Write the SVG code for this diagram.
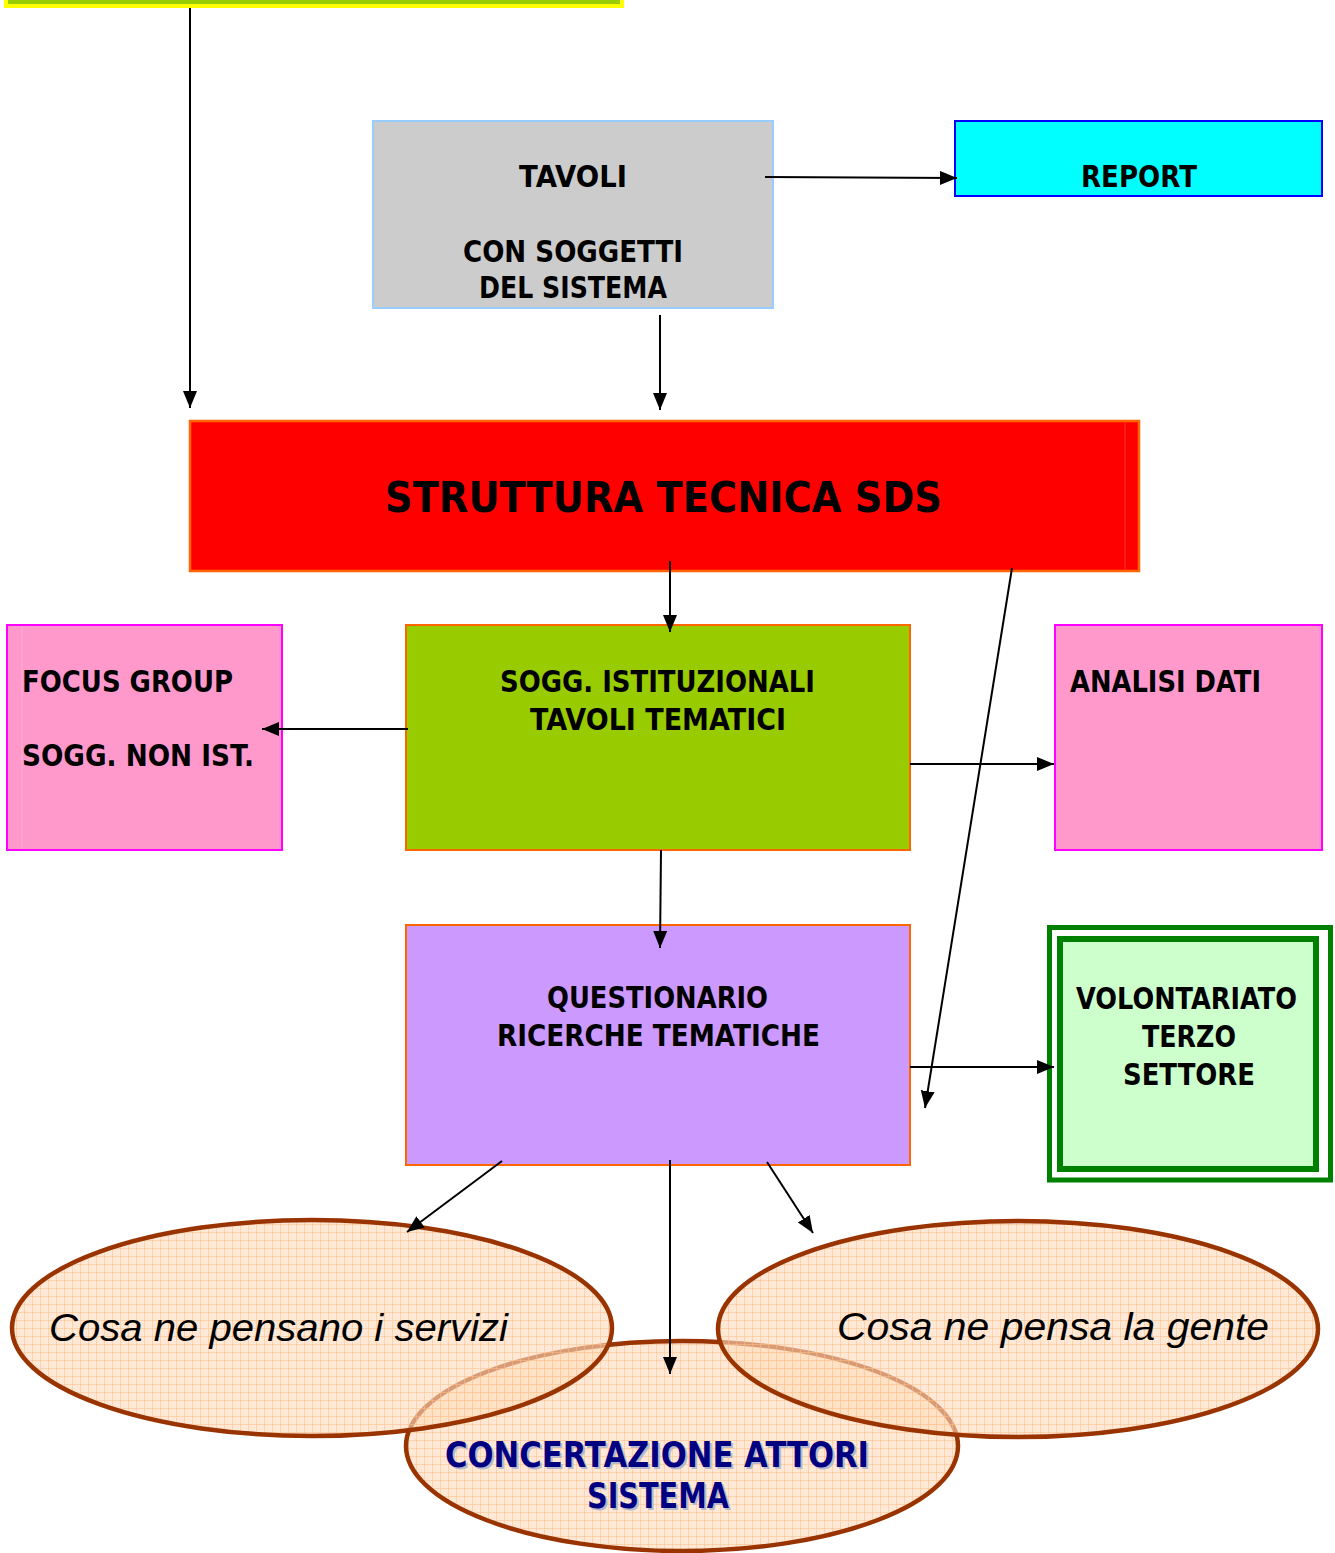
<svg xmlns="http://www.w3.org/2000/svg" width="1335" height="1553" viewBox="0 0 1335 1553">
<style>
.box{font-family:"DejaVu Sans","Liberation Sans",sans-serif;font-weight:bold;font-size:31px;fill:#000}
.big{font-size:42px}
.ital{font-family:"Liberation Sans","DejaVu Sans",sans-serif;font-style:italic;font-size:38px;fill:#000}
.conc{font-family:"DejaVu Sans","Liberation Sans",sans-serif;font-weight:bold;font-size:36px;fill:#000080}
.concs{font-family:"DejaVu Sans","Liberation Sans",sans-serif;font-weight:bold;font-size:36px;fill:#B8B8CC}
.ln{stroke:#000;stroke-width:2;fill:none;marker-end:url(#ah)}
.ell{fill:url(#grid);stroke:#993300;stroke-width:4.5}
</style>
<defs>
<marker id="ah" markerUnits="userSpaceOnUse" markerWidth="18" markerHeight="15" refX="17" refY="7" orient="auto">
<path d="M0,0 L17,7 L0,14 z" fill="#000"/>
</marker>
<pattern id="grid" patternUnits="userSpaceOnUse" width="8" height="8">
<rect width="8" height="8" fill="#FFDCBC" fill-opacity="0.62"/>
<path d="M0,0.5 H8 M0.5,0 V8" stroke="#FDBF88" stroke-opacity="0.55" stroke-width="1"/>
</pattern>
</defs>

<g id="top-box">
<rect x="6" y="-12" width="616" height="18" fill="#99CC00" stroke="#FFFF00" stroke-width="4"/>
</g>

<g id="tavoli">
<rect x="373" y="121" width="400" height="187" fill="#CCCCCC" stroke="#99CCFF" stroke-width="2"/>
<text class="box" x="519" y="187" textLength="108" lengthAdjust="spacingAndGlyphs">TAVOLI</text>
<text class="box" x="463" y="262" textLength="220" lengthAdjust="spacingAndGlyphs">CON SOGGETTI</text>
<text class="box" x="479" y="298" textLength="188" lengthAdjust="spacingAndGlyphs">DEL SISTEMA</text>
</g>

<g id="report">
<rect x="955" y="121" width="367" height="75" fill="#00FFFF" stroke="#0000FF" stroke-width="2"/>
<text class="box" x="1081" y="187" textLength="116" lengthAdjust="spacingAndGlyphs">REPORT</text>
</g>

<g id="struttura">
<rect x="190" y="421" width="949" height="150" fill="#FF0000" stroke="#FF6600" stroke-width="2.5"/>
<line x1="1125" y1="422" x2="1125" y2="570" stroke="#FF3333" stroke-width="1"/>
<text class="box big" x="385" y="512" textLength="557" lengthAdjust="spacingAndGlyphs">STRUTTURA TECNICA SDS</text>
</g>

<g id="focus">
<rect x="7" y="625" width="275" height="225" fill="#FF99CC" stroke="#FF00FF" stroke-width="2"/>
<line x1="22" y1="626" x2="22" y2="849" stroke="#FFB0D8" stroke-width="1"/>
<text class="box" x="22" y="692" textLength="211" lengthAdjust="spacingAndGlyphs">FOCUS GROUP</text>
<text class="box" x="22" y="766" textLength="232" lengthAdjust="spacingAndGlyphs">SOGG. NON IST.</text>
</g>

<g id="istituzionali">
<rect x="406" y="625" width="504" height="225" fill="#99CC00" stroke="#FF6600" stroke-width="2"/>
<text class="box" x="500" y="692" textLength="315" lengthAdjust="spacingAndGlyphs">SOGG. ISTITUZIONALI</text>
<text class="box" x="530" y="730" textLength="256" lengthAdjust="spacingAndGlyphs">TAVOLI TEMATICI</text>
</g>

<g id="analisi">
<rect x="1055" y="625" width="267" height="225" fill="#FF99CC" stroke="#FF00FF" stroke-width="2"/>
<text class="box" x="1070" y="692" textLength="191" lengthAdjust="spacingAndGlyphs">ANALISI DATI</text>
</g>

<g id="questionario">
<rect x="406" y="925" width="504" height="240" fill="#CC99FF" stroke="#FF6600" stroke-width="2"/>
<text class="box" x="547" y="1008" textLength="221" lengthAdjust="spacingAndGlyphs">QUESTIONARIO</text>
<text class="box" x="497" y="1046" textLength="323" lengthAdjust="spacingAndGlyphs">RICERCHE TEMATICHE</text>
</g>

<g id="volontariato">
<rect x="1049.5" y="927.5" width="281" height="252.5" fill="#FFFFFF" stroke="#008000" stroke-width="5"/>
<rect x="1060" y="939" width="256" height="230" fill="#CCFFCC" stroke="#008000" stroke-width="6"/>
<text class="box" x="1076" y="1009" font-size="30" textLength="221" lengthAdjust="spacingAndGlyphs" style="font-size:30px">VOLONTARIATO</text>
<text class="box" x="1142" y="1047" textLength="94" lengthAdjust="spacingAndGlyphs">TERZO</text>
<text class="box" x="1123" y="1085" textLength="132" lengthAdjust="spacingAndGlyphs">SETTORE</text>
</g>

<g id="concertazione">
<ellipse class="ell" cx="682" cy="1446" rx="276" ry="105"/>
</g>
<g id="servizi">
<ellipse class="ell" cx="312" cy="1328" rx="300" ry="108"/>
<text class="ital" x="49" y="1341" textLength="459" lengthAdjust="spacingAndGlyphs">Cosa ne pensano i servizi</text>
</g>
<g id="gente">
<ellipse class="ell" cx="1018" cy="1329" rx="300" ry="108"/>
<text class="ital" x="837" y="1340" textLength="432" lengthAdjust="spacingAndGlyphs">Cosa ne pensa la gente</text>
</g>
<g id="concertazione-label">
<text class="concs" x="447" y="1469" textLength="424" lengthAdjust="spacingAndGlyphs">CONCERTAZIONE ATTORI</text>
<text class="concs" x="589" y="1510" textLength="142" lengthAdjust="spacingAndGlyphs">SISTEMA</text>
<text class="conc" x="445" y="1467" textLength="424" lengthAdjust="spacingAndGlyphs">CONCERTAZIONE ATTORI</text>
<text class="conc" x="587" y="1508" textLength="142" lengthAdjust="spacingAndGlyphs">SISTEMA</text>
</g>

<g id="connectors">
<line class="ln" x1="190" y1="8" x2="190" y2="408"/>
<line class="ln" x1="765" y1="177" x2="957" y2="178"/>
<line class="ln" x1="660" y1="315" x2="660" y2="410"/>
<line class="ln" x1="670" y1="561" x2="670" y2="632"/>
<line class="ln" x1="1012" y1="568" x2="925" y2="1108"/>
<line class="ln" x1="408" y1="729" x2="262" y2="729"/>
<line class="ln" x1="910" y1="764" x2="1054" y2="764"/>
<line class="ln" x1="661" y1="850" x2="660" y2="948"/>
<line class="ln" x1="910" y1="1067" x2="1054" y2="1067"/>
<line class="ln" x1="502" y1="1161" x2="407" y2="1232"/>
<line class="ln" x1="670" y1="1160" x2="670" y2="1374"/>
<line class="ln" x1="767" y1="1162" x2="813" y2="1233"/>
</g>
</svg>
